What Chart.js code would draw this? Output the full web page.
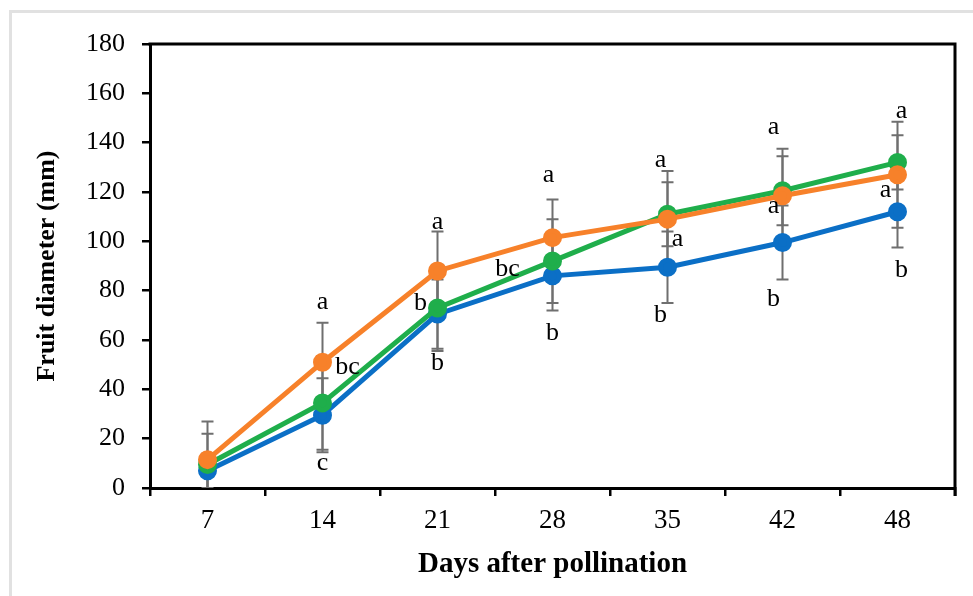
<!DOCTYPE html>
<html>
<head>
<meta charset="utf-8">
<script src="https://cdn.jsdelivr.net/npm/chart.js@4.4.1/dist/chart.umd.min.js"></script>
<style>
  body { margin: 0; background: #fff; }
  #wrap { position: relative; width: 973px; height: 596px; }
  #frame { position: absolute; left: 9px; top: 10px; right: 0; bottom: 0;
           border-left: 3px solid #e1e1e1; border-top: 3px solid #e1e1e1; }
  canvas { position: absolute; left: 0; top: 0; }
</style>
</head>
<body>
<div id="wrap">
  <div id="frame"></div>
  <canvas id="myChart" width="973" height="596"></canvas>
</div>
<script>
const days = ['7', '14', '21', '28', '35', '42', '48'];

const blueValues = [7, 29.5, 70.5, 86, 89.5, 99.5, 112];
const greenValues = [9.5, 34.5, 73, 92, 111, 120.5, 132];
const orangeValues = [11.5, 51, 88, 101.5, 109, 118.5, 127];

const blueErr = [7, 15, 14, 14, 14.5, 15, 14.5];
const greenErr = [12.5, 19, 17.5, 17, 13, 14, 11];
const orangeErr = [15.5, 16, 16, 15.5, 19.5, 19, 21.5];

const blueLetters = ['', 'c', 'b', 'b', 'b', 'b', 'b'];
const greenLetters = ['', 'bc', 'b', 'bc', 'a', 'a', 'a'];
const orangeLetters = ['', 'a', 'a', 'a', 'a', 'a', 'a'];

const yTicks = [0, 20, 40, 60, 80, 100, 120, 140, 160, 180];

// where each letter sits relative to its point, in px
const blueLetterPos = [[0, 0], [0, 48], [0, 49], [0, 57], [-7, 48], [-9, 57], [4, 58]];
const greenLetterPos = [[0, 0], [25, -36], [-17, -5], [-45, 8], [10, 25], [-9, 15], [-12, 28]];
const orangeLetterPos = [[0, 0], [0, -60], [0, -49], [-4, -62], [-7, -59], [-9, -69], [4, -64]];

const serif = "'Liberation Serif', 'Times New Roman', serif";

const errorBars = {
  id: 'errorBars',
  beforeDatasetsDraw(chart) {
    const { ctx, chartArea, scales: { y } } = chart;
    ctx.save();
    ctx.beginPath();
    ctx.rect(chartArea.left, chartArea.top, chartArea.width, chartArea.height);
    ctx.clip();
    ctx.strokeStyle = '#6f6f6f';
    ctx.lineWidth = 2;
    chart.data.datasets.forEach((ds, d) => {
      const meta = chart.getDatasetMeta(d);
      ds.data.forEach((v, i) => {
        const x = meta.data[i].x;
        const top = y.getPixelForValue(v + ds.errors[i]);
        const bot = y.getPixelForValue(v - ds.errors[i]);
        ctx.beginPath();
        ctx.moveTo(x, top);
        ctx.lineTo(x, bot);
        ctx.moveTo(x - 6, top);
        ctx.lineTo(x + 6, top);
        ctx.moveTo(x - 6, bot);
        ctx.lineTo(x + 6, bot);
        ctx.stroke();
      });
    });
    ctx.restore();
  }
};

const letters = {
  id: 'letters',
  afterDatasetsDraw(chart) {
    const { ctx } = chart;
    ctx.save();
    ctx.fillStyle = '#000';
    ctx.font = '26px ' + serif;
    ctx.textAlign = 'center';
    ctx.textBaseline = 'middle';
    chart.data.datasets.forEach((ds, d) => {
      const meta = chart.getDatasetMeta(d);
      ds.letters.forEach((t, i) => {
        if (!t) return;
        const p = meta.data[i];
        ctx.fillText(t, p.x + ds.letterPos[i][0], p.y + ds.letterPos[i][1]);
      });
    });
    ctx.restore();
  }
};

// closes the plot box on the top and right
const boxFrame = {
  id: 'boxFrame',
  afterDraw(chart) {
    const { ctx, chartArea: a } = chart;
    ctx.save();
    ctx.strokeStyle = '#000';
    ctx.lineWidth = 3;
    ctx.beginPath();
    ctx.moveTo(a.left - 1.5, a.top);
    ctx.lineTo(a.right, a.top);
    ctx.lineTo(a.right, a.bottom + 8);
    ctx.stroke();
    ctx.restore();
  }
};

function series(values, errors, color, lets, pos) {
  return {
    data: values,
    errors: errors,
    letters: lets,
    letterPos: pos,
    borderColor: color,
    backgroundColor: color,
    pointBackgroundColor: color,
    pointBorderColor: color,
    borderWidth: 5,
    pointRadius: 7,
    tension: 0,
  };
}

const ctx = document.getElementById('myChart').getContext('2d');
const myChart = new Chart(ctx, {
  type: 'line',
  data: {
    labels: days,
    datasets: [
      series(orangeValues, orangeErr, '#f7812a', orangeLetters, orangeLetterPos),
      series(greenValues, greenErr, '#1fae4b', greenLetters, greenLetterPos),
      series(blueValues, blueErr, '#0b6fc6', blueLetters, blueLetterPos),
    ],
  },
  options: {
    responsive: false,
    animation: false,
    layout: { padding: { top: 44, right: 18, left: 0, bottom: 0 } },
    plugins: {
      legend: { display: false },
      tooltip: { enabled: false },
    },
    scales: {
      x: {
        offset: true,
        afterFit: (s) => { s.height = 108; },
        grid: { offset: true, drawOnChartArea: false, color: '#000', lineWidth: 2.5, tickLength: 8 },
        border: { color: '#000', width: 3 },
        ticks: { color: '#000', font: { family: serif, size: 27 }, padding: 9 },
        title: {
          display: true,
          text: 'Days after pollination',
          color: '#000',
          font: { family: serif, size: 29, weight: 'bold' },
          padding: { top: 0, bottom: 14 },
        },
      },
      y: {
        min: 0,
        max: 180,
        afterFit: (s) => { s.width = 150; },
        afterBuildTicks: (s) => { s.ticks = yTicks.map(v => ({ value: v })); },
        grid: { drawOnChartArea: false, color: '#000', lineWidth: 2.5, tickLength: 8 },
        border: { color: '#000', width: 3 },
        ticks: { color: '#000', font: { family: serif, size: 26 }, padding: 17 },
        title: {
          display: true,
          text: 'Fruit diameter (mm)',
          color: '#000',
          font: { family: serif, size: 26, weight: 'bold' },
          padding: { top: 32, bottom: 0 },
        },
      },
    },
  },
  plugins: [errorBars, letters, boxFrame],
});
</script>
</body>
</html>
